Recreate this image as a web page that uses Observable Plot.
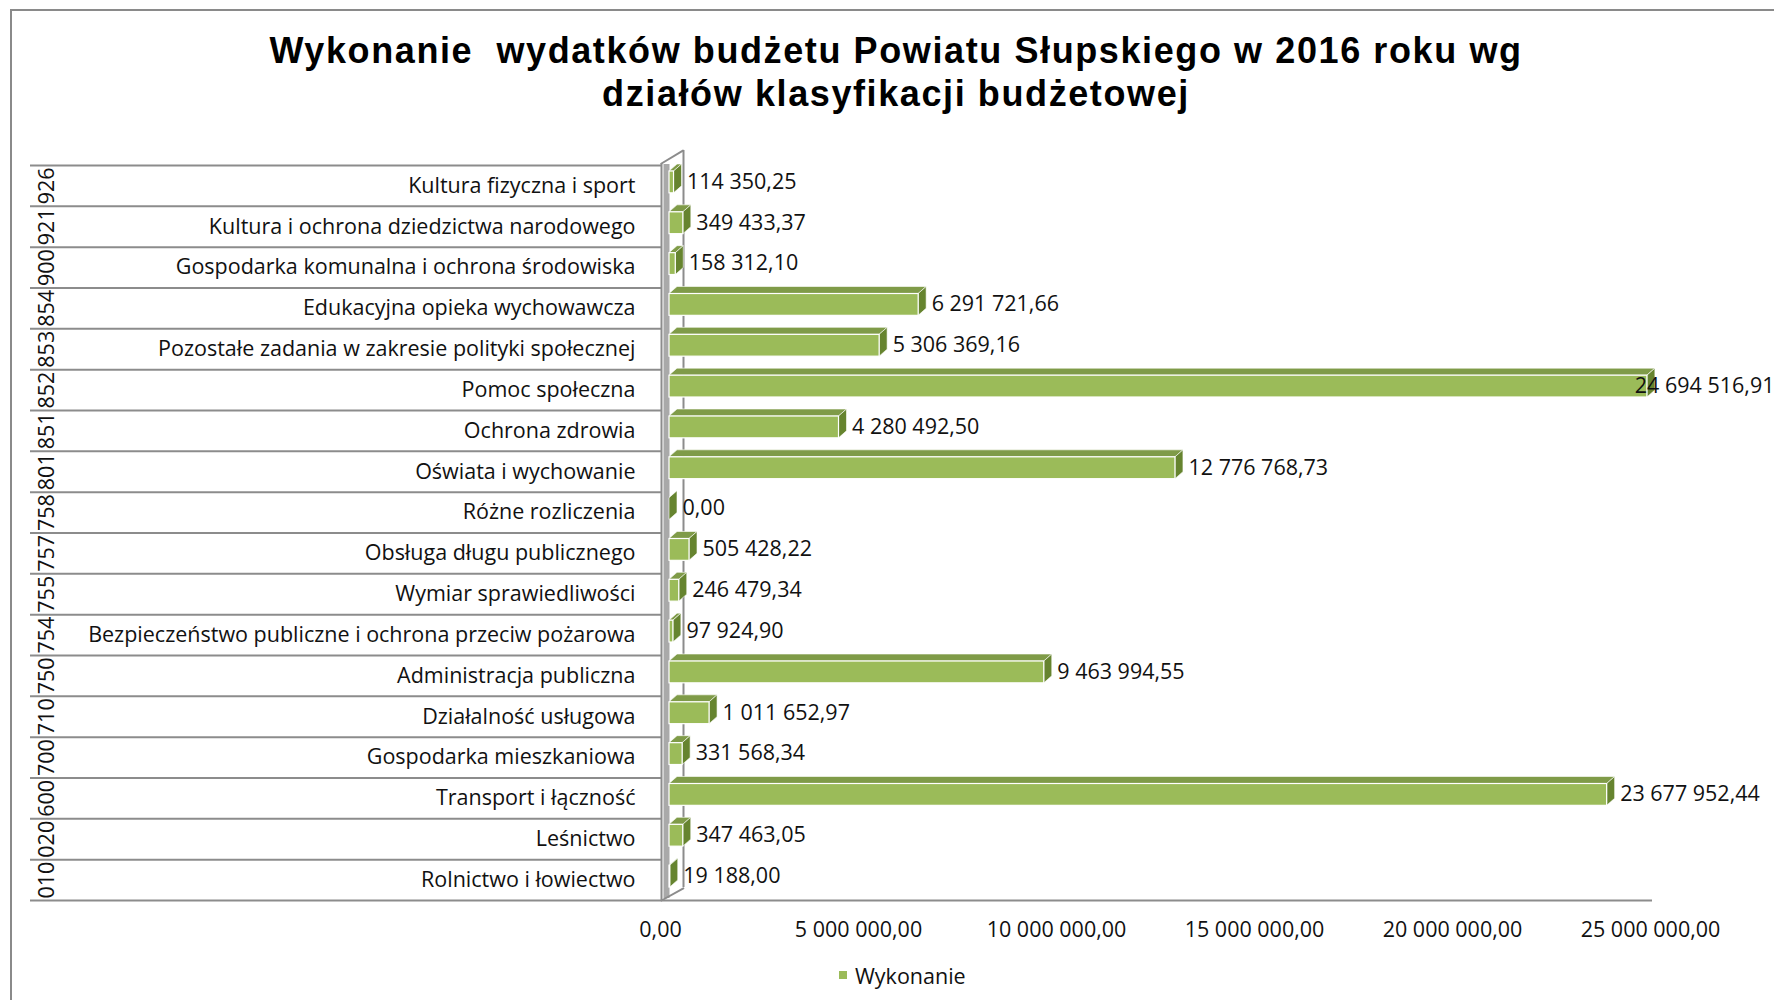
<!DOCTYPE html>
<html>
<head>
<meta charset="utf-8">
<script src="https://cdn.jsdelivr.net/npm/d3@7"></script>
<script src="https://cdn.jsdelivr.net/npm/@observablehq/plot@0.6"></script>
<style>
  html, body { margin: 0; padding: 0; background: #fff; }
  #wrap { position: relative; width: 1774px; height: 1000px; overflow: hidden; background: #fff; font-family: "Open Sans", sans-serif; }
  #frame { position: absolute; left: 10px; top: 9px; width: 3000px; height: 3000px; border-left: 2px solid #8a8a8a; border-top: 2px solid #8a8a8a; }
  #title { position: absolute; left: 0; top: 29px; width: 1792px; text-align: center; font-family: "Liberation Sans", Arial, sans-serif; font-weight: 700; font-size: 36px; letter-spacing: 1.6px; line-height: 43px; color: #000; }
  #chart { position: absolute; left: 0; top: 120px; }
  #legend { position: absolute; left: 839px; top: 960px; height: 30px; display: flex; align-items: center; font-size: 21.5px; color: #111; }
  #legend .sw { width: 8px; height: 8px; margin-right: 8px; }
</style>
</head>
<body>
<div id="wrap">
  <div id="frame"></div>
  <div id="title">Wykonanie&nbsp; wydatków budżetu Powiatu Słupskiego w 2016 roku wg<br>działów klasyfikacji budżetowej</div>
  <div id="chart"></div>
  <div id="legend"></div>
</div>
<script>
// ---- data (top row first, as drawn) ----
const codes = ["926","921","900","854","853","852","851","801","758","757","755","754","750","710","700","600","020","010"];
const names = [
  "Kultura fizyczna i sport",
  "Kultura i ochrona dziedzictwa narodowego",
  "Gospodarka komunalna i ochrona środowiska",
  "Edukacyjna opieka wychowawcza",
  "Pozostałe zadania w zakresie polityki społecznej",
  "Pomoc społeczna",
  "Ochrona zdrowia",
  "Oświata i wychowanie",
  "Różne rozliczenia",
  "Obsługa długu publicznego",
  "Wymiar sprawiedliwości",
  "Bezpieczeństwo publiczne i ochrona przeciw pożarowa",
  "Administracja publiczna",
  "Działalność usługowa",
  "Gospodarka mieszkaniowa",
  "Transport i łączność",
  "Leśnictwo",
  "Rolnictwo i łowiectwo"
];
const values = [114350.25, 349433.37, 158312.10, 6291721.66, 5306369.16, 24694516.91, 4280492.50, 12776768.73, 0.00, 505428.22, 246479.34, 97924.90, 9463994.55, 1011652.97, 331568.34, 23677952.44, 347463.05, 19188.00];
const xTicks = [0, 5000000, 10000000, 15000000, 20000000, 25000000];
const seriesName = "Wykonanie";

// ---- build ----
const rows = codes.map((c, i) => ({code: c, name: names[i], value: values[i]}));
const nameByCode = new Map(rows.map(d => [d.code, d.name]));
const pl = d3.formatLocale({decimal: ",", thousands: " ", grouping: [3], currency: ["", ""]});
const fmt = pl.format(",.2f");

const W = 1774, H = 830, mL = 669, mR = 115, mT = 45, mB = 50;
const bw = (H - mT - mB) / codes.length;
const FS = 21.5;
const DX = 8, DY = 7; // 3D depth offsets
const FRONT = "#9BBB59", TOP = "#7F9B48", SIDE = "#66842F";
const GRID = "#8c8c8c";
const lineShape = {draw(ctx, l) { ctx.moveTo(0, 0); ctx.lineTo(0, -l); }};

// turn the rects drawn by Plot into 3D faces
function faceRender(kind) {
  return function(index, scales, values, dims, context, next) {
    const g = next(index, scales, values, dims, context);
    d3.select(g).selectAll("rect").each(function() {
      const r = d3.select(this);
      const x = +r.attr("x"), y = +r.attr("y"), w = +r.attr("width") || 0, h = +r.attr("height");
      const d = kind === "top"
        ? `M${x},${y}L${x + w},${y}L${x + w + DX},${y - DY}L${x + DX},${y - DY}Z`
        : `M${x + w},${y}L${x + w + DX},${y - DY}L${x + w + DX},${y + h - DY}L${x + w},${y + h}Z`;
      const p = d3.create("svg:path").attr("d", d).node();
      this.parentNode.insertBefore(p, this);
      r.remove();
    });
    return g;
  };
}

const chart = Plot.plot({
  width: W, height: H,
  marginLeft: mL, marginRight: mR, marginTop: mT, marginBottom: mB,
  style: {fontFamily: "Open Sans, sans-serif", fontSize: FS + "px", background: "transparent", color: "#111", overflow: "visible"},
  x: {domain: [0, 25000000], axis: null},
  y: {domain: codes, padding: 0, round: false, axis: null},
  marks: [
    // table rows
    Plot.ruleY(codes, {y: d => d, dy: -bw / 2, insetLeft: -(mL - 30), insetRight: (W - mR) - 661, stroke: GRID, strokeWidth: 2}),
    Plot.ruleY([codes[codes.length - 1]], {y: d => d, dy: bw / 2, insetLeft: -(mL - 30), insetRight: 7, stroke: GRID, strokeWidth: 2}),
    // 3D wall
    Plot.ruleX([0], {x: d => d, dx: -3, strokeWidth: 6, stroke: "#a9a9a9", insetTop: -1, insetBottom: 2}),
    Plot.ruleX([0], {x: d => d, dx: -8, stroke: GRID, strokeWidth: 2, insetTop: -2}),
    Plot.ruleX([0], {x: d => d, dx: 14, dy: -13, stroke: GRID, strokeWidth: 2, insetTop: -2}),
    Plot.vector([codes[0]], {x: 0, y: d => d, dx: -8, dy: -bw / 2 - 2, length: 25, rotate: 59, anchor: "start", shape: lineShape, stroke: GRID, strokeWidth: 2}),
    Plot.vector([codes[codes.length - 1]], {x: 0, y: d => d, dx: -8, dy: bw / 2, length: 25, rotate: 61, anchor: "start", shape: lineShape, stroke: GRID, strokeWidth: 2}),
    // 3D bars: top face, side face, front face
    Plot.barX(rows, {x: "value", y: "code", insetTop: 6, insetBottom: 13, fill: TOP, stroke: "#fff", strokeWidth: 0.6, render: faceRender("top")}),
    Plot.barX(rows, {x: "value", y: "code", insetTop: 6, insetBottom: 13, fill: SIDE, stroke: "#fff", strokeWidth: 0.6, render: faceRender("side")}),
    Plot.barX(rows, {x: "value", y: "code", insetTop: 6, insetBottom: 13, fill: FRONT, stroke: "#fff", strokeWidth: 1.2}),
    // value labels
    Plot.text(rows.filter(d => d.value < 24000000), {x: "value", y: "code", text: d => fmt(d.value), textAnchor: "start", dx: 13, dy: -4, fontSize: FS, fill: "#111"}),
    Plot.text(rows.filter(d => d.value >= 24000000), {y: "code", frameAnchor: "right", text: d => fmt(d.value), textAnchor: "end", dx: mR, dy: -4, fontSize: FS, fill: "#111"}),
    // codes (rotated)
    Plot.text(rows, {y: "code", text: "code", frameAnchor: "left", textAnchor: "middle", dx: 47 - mL, rotate: -90, fontSize: FS, fill: "#111"}),
    // axes
    Plot.axisY({tickSize: 0, tickPadding: 34, tickFormat: c => nameByCode.get(c), fontSize: FS, label: null}),
    Plot.axisX(xTicks, {tickSize: 0, tickPadding: 21, tickFormat: fmt, dx: -9, fontSize: FS, label: null})
  ]
});
document.getElementById("chart").appendChild(chart);

const lg = document.getElementById("legend");
lg.innerHTML = `<span class="sw" style="background:${FRONT}"></span><span>${seriesName}</span>`;
</script>
</body>
</html>
